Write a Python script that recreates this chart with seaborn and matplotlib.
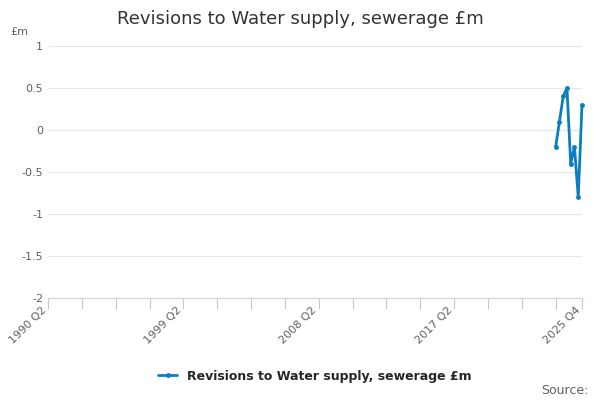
import matplotlib
matplotlib.use("Agg")
import matplotlib.pyplot as plt
import seaborn as sns
import pandas as pd

# quarters from 2024 Q1 to 2025 Q4
quarters = ["2024 Q1", "2024 Q2", "2024 Q3", "2024 Q4", "2025 Q1", "2025 Q2", "2025 Q3", "2025 Q4"]
values = [-0.2, 0.1, 0.4, 0.5, -0.4, -0.2, -0.8, 0.3]
label_names = ["1990 Q2", "1999 Q2", "2008 Q2", "2017 Q2", "2025 Q4"]


def qidx(q):
    y, n = q.split(" Q")
    return (int(y) - 1990) * 4 + int(n) - 2


df = pd.DataFrame({"x": [qidx(q) for q in quarters], "v": values})

sns.set_style("white")
fig, ax = plt.subplots(figsize=(6, 4), dpi=100)
fig.subplots_adjust(left=0.08, right=0.97, top=0.885, bottom=0.255)

color = "#0b7ec2"
sns.lineplot(data=df, x="x", y="v", ax=ax, color=color, linewidth=2,
             marker="o", markersize=3.5, markeredgewidth=0,
             label="Revisions to Water supply, sewerage £m")
for ln in ax.lines:
    ln.set_clip_on(False)

end = qidx("2025 Q4")
ax.set_xlim(0, end)
ax.set_ylim(-2, 1)
ax.set_yticks([-2, -1.5, -1, -0.5, 0, 0.5, 1])
ax.set_yticklabels(["-2", "-1.5", "-1", "-0.5", "0", "0.5", "1"])
ax.yaxis.grid(True, color="#e6e6e6", linewidth=0.8)
ax.set_xticks(list(range(0, end, 9)) + [end])
ax.set_xticklabels([])
ax.tick_params(axis="x", length=8, color="#c0c8e0", width=0.8, bottom=True, direction="out")
ax.tick_params(axis="y", length=0, labelsize=8, labelcolor="#606060")
for q in label_names:
    ax.text(qidx(q), -2.08, q, rotation=45, ha="right", va="top",
            fontsize=8, color="#606060")
for s in ["top", "right", "left"]:
    ax.spines[s].set_visible(False)
ax.spines["bottom"].set_color("#ccd6eb")
ax.set_xlabel("")
ax.set_ylabel("")
ax.text(-0.07, 1.045, "£m", transform=ax.transAxes, ha="left", fontsize=8, color="#606060")
fig.suptitle("Revisions to Water supply, sewerage £m", y=0.975, fontsize=13, color="#333333")
ax.legend(loc="upper center", bbox_to_anchor=(0.5, -0.24), frameon=False,
          prop={"weight": "bold", "size": 9}, handlelength=1.5)
fig.text(0.98, 0.015, "Source:", ha="right", fontsize=9, color="#606060")
fig.savefig("out.png")
